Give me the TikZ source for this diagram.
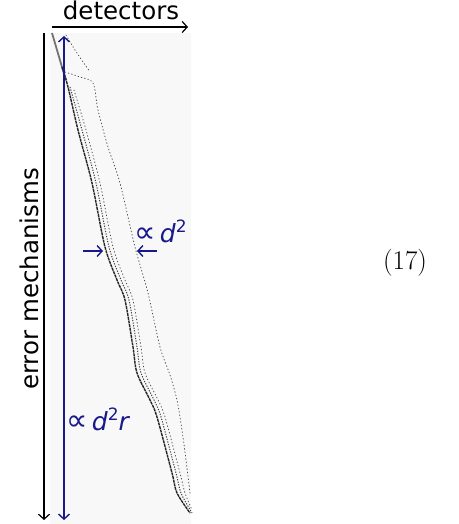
\documentclass[tikz,border=0pt]{standalone}
\usepackage{fontspec}
\newfontfamily\dv{DejaVu Sans}
\usetikzlibrary{arrows.meta}
\definecolor{navyb}{RGB}{25,25,140}
\definecolor{bggray}{RGB}{248,248,248}
\begin{document}
\begin{tikzpicture}[x=1pt,y=-1pt,
  lbl/.style={font=\dv\fontsize{24.5}{28}\selectfont, inner sep=0},
  blbl/.style={font=\dv\fontsize{25}{28}\selectfont, text=navyb, inner sep=0},
  ax/.style={line width=1.2pt, -{Straight Barb[length=5pt,width=11pt]}},
  bax/.style={draw=navyb, line width=1.4pt, -{Straight Barb[length=5pt,width=11pt]}},
  mainc/.style={line width=1.4pt, black!85, dash pattern=on 3pt off 0.7pt},
  topc/.style={line width=1.8pt, black!55},
  bandc/.style={line width=1pt, black!75, dash pattern=on 1.2pt off 1.4pt},
  dotc/.style={line width=0.8pt, black!70, dash pattern=on 0.8pt off 2.6pt, line cap=round},
]
\useasboundingbox (0,0) rectangle (458,524);
% background panel
\fill[bggray] (50,33) rectangle (191,524);
% sparse pattern
\draw[topc] plot[smooth] coordinates {(52,33) (57,50) (62,67) (66,80)};
\draw[mainc] plot[smooth] coordinates {(62,67) (68,87) (78,130) (92,183) (105,247) (117,280) (125,300) (133,347) (137,373) (150,400) (157,417) (172,473) (177,493) (190,513)};
\begin{scope}[xshift=4pt]
\draw[bandc] plot[smooth] coordinates {(66,87) (78,130) (92,183) (105,247) (117,280) (125,300) (133,347) (137,373) (150,400) (157,417) (172,473) (177,493) (188,513)};
\end{scope}
\begin{scope}[xshift=8pt]
\draw[dotc] plot[smooth] coordinates {(66,90) (78,130) (92,183) (105,247) (117,280) (125,300) (133,347) (137,373) (150,400) (157,417) (172,473) (177,493) (184,510)};
\end{scope}
\draw[dotc] plot[smooth] coordinates {(66,35) (75,50) (90,72)};
\draw[dotc] plot[smooth] coordinates {(65,72) (80,77) (93,83) (98,110) (108,147) (120,183) (135,247) (148,293) (160,347) (170,375) (177,400) (182,430) (186,460) (190,493)};
% axes
\coordinate (dL) at (52,27);
\coordinate (dR) at (188,27);
\coordinate (eT) at (44,33);
\coordinate (eB) at (44,520);
\coordinate (bT) at (64,36);
\coordinate (bB) at (64,520);
\draw[ax] (dL) -- (dR);
\draw[ax] (eT) -- (eB);
\draw[bax, {Straight Barb[length=5pt,width=11pt]}-{Straight Barb[length=5pt,width=11pt]}] (bT) -- (bB);
\node[lbl, anchor=base] (det) at (121,20) {detectors};
\node[lbl, rotate=90, anchor=base] (err) at (38,279) {error mechanisms};
% small arrows
\coordinate (a1s) at (83,251);
\coordinate (a1e) at (103,251);
\coordinate (a2s) at (157,251);
\coordinate (a2e) at (137,251);
\draw[bax] (a1s) -- (a1e);
\draw[bax] (a2s) -- (a2e);
\node[blbl, anchor=base west] (ld2) at (134,242) {{\fontsize{30}{30}\selectfont ∝}\,\textit{d}\raisebox{0.4em}{\fontsize{17}{17}\selectfont 2}};
\node[blbl, anchor=base west] (ld2r) at (66,430) {{\fontsize{30}{30}\selectfont ∝}\,\textit{d}\raisebox{0.4em}{\fontsize{17}{17}\selectfont 2}\textit{r}};
\node[font=\fontsize{27}{30}\selectfont, inner sep=0] (eq) at (405,263) {(17)};
\end{tikzpicture}
\end{document}
